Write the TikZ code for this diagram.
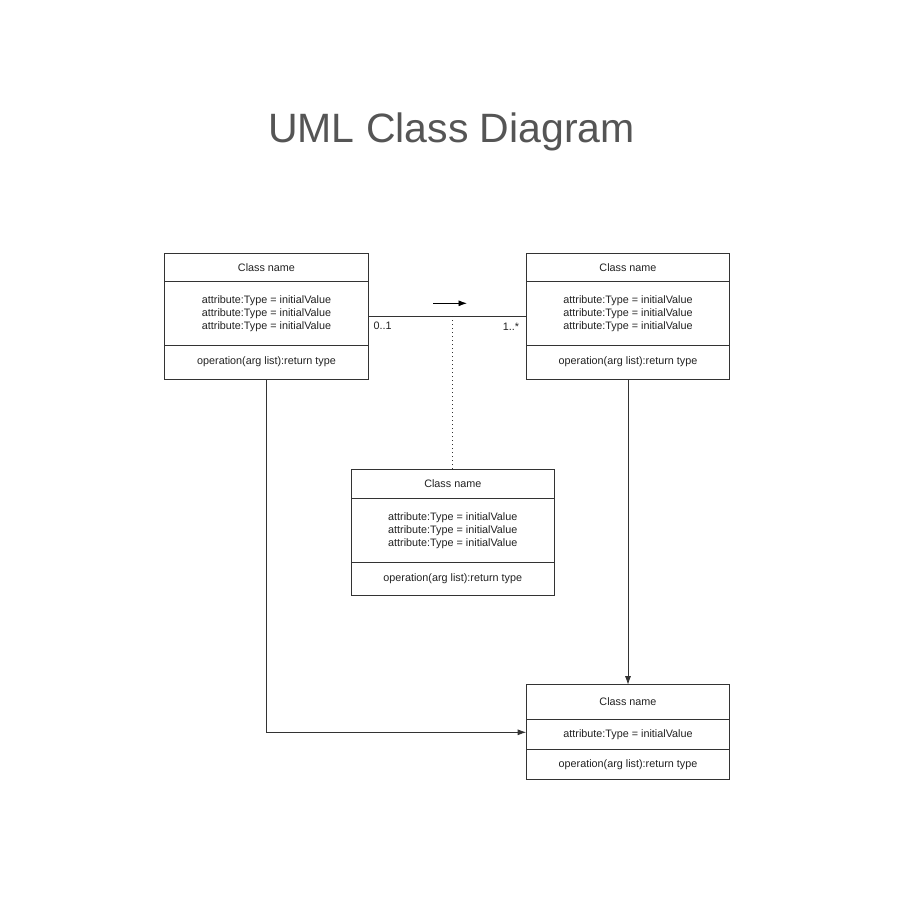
\documentclass[tikz,border=0pt]{standalone}
\usepackage{fontspec}
\setmainfont{Liberation Sans}
\usetikzlibrary{positioning}
\usetikzlibrary{arrows.meta}
\definecolor{boxline}{HTML}{333333}
\definecolor{boxtext}{HTML}{222222}
\definecolor{titlegray}{HTML}{555555}

\begin{document}
\begin{tikzpicture}[x = 1pt, y = -1pt,
	part/.style = {draw = boxline, line width = 0.8pt, fill = white, minimum width = 203.6pt, inner sep = 0pt, outer sep = 0pt, align = center, text = boxtext, font = \fontsize{10.8}{13}\selectfont},
	link/.style = {draw = boxline, line width = 0.8pt},
	tip/.style = {-{Latex[length = 8.5pt, width = 6pt]}},
	mult/.style = {text = boxtext, font = \fontsize{10.8}{13}\selectfont, inner sep = 0pt}]
	\useasboundingbox (0, 0) rectangle (900, 900);
	\node [font = \fontsize{41}{49}\selectfont, text = titlegray, anchor = base] (title) at (451.5, 142.3) {UML Class Diagram};

	% top left class
	\node [part, minimum height = 28pt] (tlname) at (266.5, 267.7) {Class name};
	\node [part, minimum height = 63.3pt, below = 0pt of tlname] (tlattr) {attribute:Type = initialValue\\attribute:Type = initialValue\\attribute:Type = initialValue};
	\node [part, minimum height = 34pt, below = 0pt of tlattr] (tlop) {operation(arg list):return type};

	% top right class
	\node [part, minimum height = 28pt] (trname) at (628, 267.7) {Class name};
	\node [part, minimum height = 63.3pt, below = 0pt of trname] (trattr) {attribute:Type = initialValue\\attribute:Type = initialValue\\attribute:Type = initialValue};
	\node [part, minimum height = 34pt, below = 0pt of trattr] (trop) {operation(arg list):return type};

	% middle class
	\node [part, minimum height = 29.3pt] (mname) at (452.8, 483.65) {Class name};
	\node [part, minimum height = 64pt, below = 0pt of mname] (mattr) {attribute:Type = initialValue\\attribute:Type = initialValue\\attribute:Type = initialValue};
	\node [part, minimum height = 33pt, below = 0pt of mattr] (mop) {operation(arg list):return type};

	% bottom class
	\node [part, minimum height = 34.6pt] (bname) at (628, 702) {Class name};
	\node [part, minimum height = 30pt, below = 0pt of bname] (battr) {attribute:Type = initialValue};
	\node [part, minimum height = 30pt, below = 0pt of battr] (bop) {operation(arg list):return type};

	% association
	\coordinate (assocl) at ([yshift = -2.7pt] tlattr.east);
	\coordinate (assocr) at ([yshift = -2.7pt] trattr.west);
	\draw [link] (assocl) -- (assocr);
	\draw [link, dash pattern = on 1pt off 3pt] (mname.north) -- (mname.north |- assocl);
	\node [mult, anchor = north west] (lmult) at ([xshift = 5pt, yshift = -6pt] assocl) {0..1};
	\node [mult, anchor = north east] (rmult) at ([xshift = -7pt, yshift = -7pt] assocr) {1..*};
	\coordinate (dirs) at (433, 303.3);
	\coordinate (dire) at (467, 303.3);
	\draw [link, draw = black, tip] (dirs) -- (dire);

	% links to bottom class
	\draw [link, tip] (tlop.south) |- ([yshift = 2pt] battr.west);
	\draw [link, tip] (trop.south) -- (bname.north);
\end{tikzpicture}
\end{document}
